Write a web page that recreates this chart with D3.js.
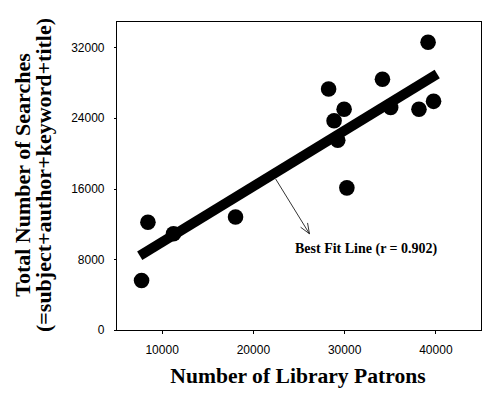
<!DOCTYPE html>
<html>
<head>
<meta charset="utf-8">
<script src="https://cdn.jsdelivr.net/npm/d3@7"></script>
<style>
  html, body { margin: 0; padding: 0; background: #fff; }
  svg { display: block; }
</style>
</head>
<body>
<svg id="chart" width="496" height="394"></svg>
<script>
// ---- data ----
const patrons  = [7800, 8500, 11300, 18100, 28300, 28900, 30000, 29300, 30300, 34200, 35100, 38200, 39800, 39200];
const searches = [5600, 12200, 10900, 12800, 27300, 23700, 25000, 21500, 16100, 28400, 25200, 25000, 25900, 32600];
const fitX = [7600, 40200];
const fitY = [8400, 29000];
const xTicks = [10000, 20000, 30000, 40000];
const yTicks = [0, 8000, 16000, 24000, 32000];
const xTitle = "Number of Library Patrons";
const yTitle1 = "Total Number of Searches";
const yTitle2 = "(=subject+author+keyword+title)";
const fitLabel = "Best Fit Line (r = 0.902)";

// ---- layout ----
const L = 116, R = 481, T = 21, B = 330;
const svg = d3.select("#chart");
const x = d3.scaleLinear().domain([5000, 45000]).range([L, R]);
const y = d3.scaleLinear().domain([0, 35000]).range([B, T]);

// frame
svg.append("rect")
  .attr("x", L + 0.5).attr("y", T + 0.5)
  .attr("width", R - L).attr("height", B - T)
  .attr("fill", "none").attr("stroke", "#000").attr("stroke-width", 1)
  .attr("shape-rendering", "crispEdges");

// axes
const xAxis = svg.append("g").attr("transform", `translate(0,${B + 0.5})`)
  .call(d3.axisBottom(x).tickValues(xTicks).tickSize(3).tickPadding(12).tickFormat(d3.format("d")));
const yAxis = svg.append("g").attr("transform", `translate(${L + 0.5},0)`)
  .call(d3.axisLeft(y).tickValues(yTicks).tickSize(3).tickPadding(9).tickFormat(d3.format("d")));
[xAxis, yAxis].forEach(g => {
  g.select(".domain").remove();
  g.selectAll("line").attr("stroke", "#000").attr("shape-rendering", "crispEdges");
  g.selectAll("text").attr("fill", "#000")
    .style("font-family", "'Liberation Sans', Arial, sans-serif")
    .style("font-size", "12px");
});

// fit line
svg.append("line")
  .attr("x1", x(fitX[0])).attr("y1", y(fitY[0]))
  .attr("x2", x(fitX[1])).attr("y2", y(fitY[1]))
  .attr("stroke", "#000").attr("stroke-width", 10);

// points
svg.append("g").selectAll("circle")
  .data(patrons.map((p, i) => [p, searches[i]]))
  .join("circle")
  .attr("cx", d => x(d[0])).attr("cy", d => y(d[1]))
  .attr("r", 7.8).attr("fill", "#000");

// arrow annotation
const ax1 = x(22500), ay1 = y(17100), ax2 = x(26200), ay2 = y(10900);
svg.append("line").attr("x1", ax1).attr("y1", ay1).attr("x2", ax2).attr("y2", ay2)
  .attr("stroke", "#000").attr("stroke-width", 0.8);
const ang = Math.atan2(ay2 - ay1, ax2 - ax1);
[-0.38, 0.38].forEach(da => {
  svg.append("line").attr("x1", ax2).attr("y1", ay2)
    .attr("x2", ax2 - 11 * Math.cos(ang + da)).attr("y2", ay2 - 11 * Math.sin(ang + da))
    .attr("stroke", "#000").attr("stroke-width", 0.8);
});

svg.append("text")
  .attr("x", 295).attr("y", 253)
  .style("font-family", "'Liberation Serif', 'Times New Roman', serif")
  .style("font-weight", "bold").style("font-size", "14px")
  .text(fitLabel);

// titles
svg.append("text")
  .attr("x", 298).attr("y", 383).attr("text-anchor", "middle")
  .style("font-family", "'Liberation Serif', 'Times New Roman', serif")
  .style("font-weight", "bold").style("font-size", "21.6px")
  .text(xTitle);

[[yTitle1, 30], [yTitle2, 51]].forEach(([t, bx]) => {
  svg.append("text")
    .attr("transform", `translate(${bx},175) rotate(-90)`)
    .attr("text-anchor", "middle")
    .style("font-family", "'Liberation Serif', 'Times New Roman', serif")
    .style("font-weight", "bold").style("font-size", "22px")
    .text(t);
});
</script>
</body>
</html>
